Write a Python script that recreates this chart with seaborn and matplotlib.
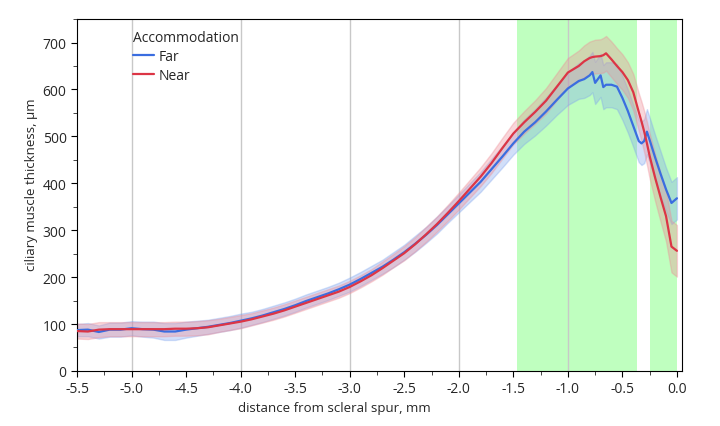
import matplotlib
matplotlib.use('Agg')
import matplotlib.pyplot as plt
from matplotlib.ticker import MultipleLocator
import seaborn as sns
import pandas as pd

# distance from scleral spur, mm
dist = [-5.5, -5.4, -5.3, -5.2, -5.1, -5.0,
        -4.9, -4.8, -4.7, -4.6, -4.5, -4.4, -4.3, -4.2, -4.1, -4.0,
        -3.9, -3.8, -3.7, -3.6, -3.5, -3.4, -3.3, -3.2, -3.1, -3.0,
        -2.9, -2.8, -2.7, -2.6, -2.5, -2.4, -2.3, -2.2, -2.1, -2.0,
        -1.9, -1.8, -1.7, -1.6, -1.5, -1.4, -1.3, -1.2, -1.1, -1.0, -0.9,
        -0.85, -0.8, -0.775, -0.75, -0.7, -0.675, -0.65, -0.6, -0.55, -0.5, -0.45,
        -0.4, -0.35, -0.325, -0.3, -0.275, -0.25, -0.2, -0.15, -0.1, -0.05, 0.0]

far_mean = [87, 88, 83, 88, 88, 91,
            89, 88, 84, 84, 88, 91, 94, 98, 102, 107,
            112, 118, 125, 132, 140, 149, 157, 165, 174, 184,
            196, 209, 222, 237, 253, 271, 290, 311, 334, 357,
            380, 403, 430, 457, 485, 510, 530, 553, 578, 602, 618,
            622, 630, 637, 614, 630, 605, 610, 610, 606, 582, 554,
            522, 490, 485, 490, 510, 492, 455, 420, 387, 358, 368]
far_sd = [13, 14, 14, 15, 15, 15,
          16, 17, 18, 18, 17, 16, 15, 15, 15, 15,
          14, 14, 14, 14, 14, 14, 14, 14, 14, 15,
          15, 15, 15, 16, 16, 17, 17, 18, 18, 19,
          20, 21, 22, 23, 24, 26, 28, 30, 32, 35, 38,
          40, 42, 43, 45, 46, 47, 48, 48, 48, 47, 46,
          45, 45, 46, 47, 48, 48, 48, 48, 46, 45, 45]

near_mean = [85, 84, 88, 89, 89, 89,
             89, 89, 89, 90, 90, 91, 93, 97, 101, 105,
             110, 116, 122, 129, 137, 145, 153, 161, 169, 179,
             191, 204, 219, 235, 251, 270, 291, 313, 337, 362,
             388, 414, 443, 475, 506, 530, 552, 576, 606, 636, 650,
             660, 667, 669, 670, 671, 673, 677, 664, 650, 637, 620,
             594, 552, 532, 510, 485, 458, 412, 370, 330, 265, 256]
near_sd = [16, 16, 16, 15, 15, 15,
           15, 15, 15, 15, 15, 15, 15, 14, 14, 14,
           13, 13, 13, 13, 13, 13, 13, 13, 13, 13,
           13, 13, 14, 14, 15, 15, 16, 16, 17, 18,
           19, 20, 21, 22, 23, 24, 25, 27, 29, 31, 33,
           34, 35, 35, 36, 36, 37, 37, 38, 38, 38, 38,
           39, 40, 42, 44, 46, 48, 50, 52, 54, 55, 55]

# regions shaded green
spans = [(-1.47, -0.365), (-0.245, 0.0)]

colors = {'Far': '#3a6de0', 'Near': '#dc3545'}
band_colors = {'Far': '#7fa4ee', 'Near': '#ee8c96'}

df = pd.concat([
    pd.DataFrame({'dist': dist, 'thickness': far_mean, 'sd': far_sd, 'Accommodation': 'Far'}),
    pd.DataFrame({'dist': dist, 'thickness': near_mean, 'sd': near_sd, 'Accommodation': 'Near'}),
])

sns.set_style('ticks')
plt.rcParams['font.family'] = ['Open Sans', 'DejaVu Sans']

fig, ax = plt.subplots(figsize=(7.2, 4.27), dpi=100)
fig.subplots_adjust(left=0.107, right=0.947, bottom=0.129, top=0.953)

for lo, hi in spans:
    ax.axvspan(lo, hi, color='#bfffbf', lw=0, zorder=0)
for gx in [-5, -4, -3, -2, -1]:
    ax.axvline(gx, color='#c8c8c8', lw=1, zorder=0.5)

for name, grp in df.groupby('Accommodation'):
    ax.fill_between(grp['dist'], grp['thickness'] - grp['sd'], grp['thickness'] + grp['sd'],
                    color=band_colors[name], alpha=0.35, lw=1, edgecolor=band_colors[name], zorder=1)

sns.lineplot(data=df, x='dist', y='thickness', hue='Accommodation', palette=colors,
             lw=1.6, ax=ax, zorder=3)

ax.set_xlim(-5.5, 0.045)
ax.set_ylim(0, 750)
ax.xaxis.set_major_locator(MultipleLocator(0.5))
ax.xaxis.set_minor_locator(MultipleLocator(0.25))
ax.yaxis.set_major_locator(MultipleLocator(100))
ax.yaxis.set_minor_locator(MultipleLocator(50))
ax.xaxis.set_major_formatter(plt.FuncFormatter(lambda v, p: f'{v:.1f}'))
ax.tick_params(labelsize=10, color='black', length=4)
ax.tick_params(which='minor', length=3)
for s in ax.spines.values():
    s.set_color('black')

ax.set_xlabel('distance from scleral spur, mm', fontsize=9.5)
ax.set_ylabel('ciliary muscle thickness, µm', fontsize=9.5)
ax.xaxis.set_label_coords(0.426, -0.085)
ax.yaxis.set_label_coords(-0.064, 0.531)

leg = ax.legend(title='Accommodation', loc='upper left', bbox_to_anchor=(0.072, 1.005),
                frameon=False, fontsize=10, title_fontsize=10, handlelength=1.5,
                handletextpad=0.35, labelspacing=0.3)
leg._legend_box.align = 'left'

plt.savefig('out.png')
